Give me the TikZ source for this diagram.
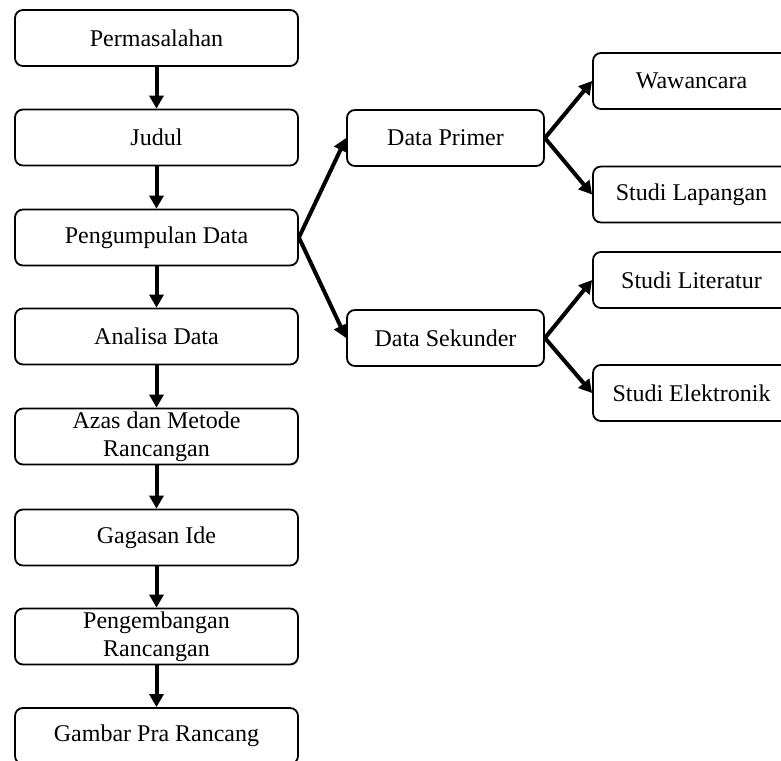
\documentclass[tikz,border=0pt]{standalone}
\usepackage{fontspec}
\setmainfont{Liberation Serif}
\usetikzlibrary{arrows.meta}
\begin{document}
\begin{tikzpicture}[x=1pt,y=-1pt,
  box/.style={draw, line width=1.8pt, rounded corners=8pt, minimum height=56pt,
    inner sep=0pt, align=center, font=\fontsize{24}{28}\selectfont},
  lbox/.style={box, minimum width=283pt},
  mbox/.style={box, minimum width=197pt},
  arr/.style={line width=4pt, -{Triangle[length=13pt,width=14pt]}}]
\clip (0,0) rectangle (781,760);
\useasboundingbox (0,0) rectangle (781,760);
\fill[white] (0,0) rectangle (781,760);
% left column
\node[lbox] (p1) at (156.5,38) {Permasalahan};
\node[lbox] (p2) at (156.5,137.5) {Judul};
\node[lbox] (p3) at (156.5,237.5) {Pengumpulan Data};
\node[lbox] (p4) at (156.5,336.5) {Analisa Data};
\node[lbox] (p5) at (156.5,436.5) {Azas dan Metode\\Rancangan};
\node[lbox] (p6) at (156.5,537.5) {Gagasan Ide};
\node[lbox] (p7) at (156.5,636.5) {Pengembangan\\Rancangan};
\node[lbox] (p8) at (156.5,736) {Gambar Pra Rancang};
% middle
\node[mbox] (dp) at (445.5,138) {Data Primer};
\node[mbox] (ds) at (445.5,338) {Data Sekunder};
% right
\node[mbox] (w) at (691.5,81) {Wawancara};
\node[mbox] (sl) at (691.5,194.5) {Studi Lapangan};
\node[mbox] (slit) at (691.5,280) {Studi Literatur};
\node[mbox] (se) at (691.5,393) {Studi Elektronik};
% arrows
\draw[arr] (p1) -- (p2);
\draw[arr] (p2) -- (p3);
\draw[arr] (p3) -- (p4);
\draw[arr] (p4) -- (p5);
\draw[arr] (p5) -- (p6);
\draw[arr] (p6) -- (p7);
\draw[arr] (p7) -- (p8);
\draw[arr] (p3.east) -- (dp.west);
\draw[arr] (p3.east) -- (ds.west);
\draw[arr] (dp.east) -- (w.west);
\draw[arr] (dp.east) -- (sl.west);
\draw[arr] (ds.east) -- (slit.west);
\draw[arr] (ds.east) -- (se.west);
\end{tikzpicture}
\end{document}
